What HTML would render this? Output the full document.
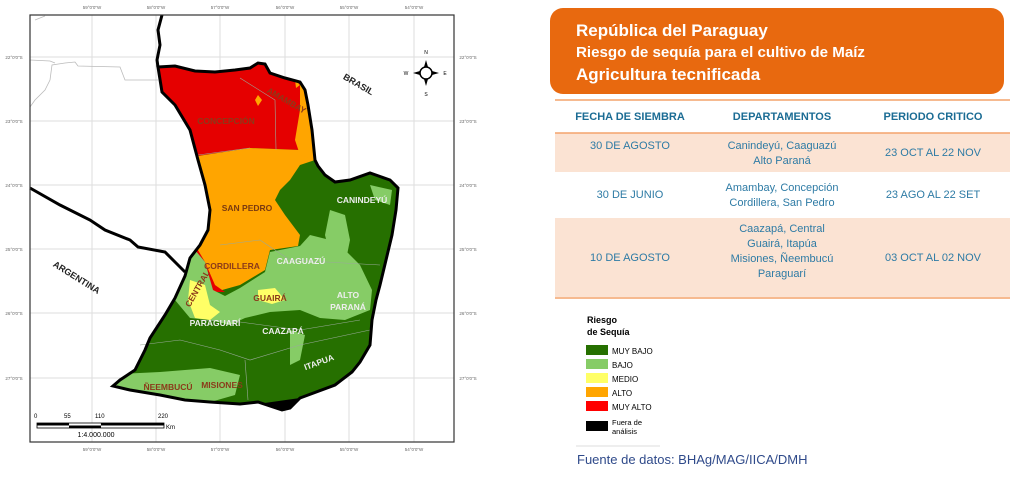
<!DOCTYPE html>
<html><head><meta charset="utf-8"><style>
body{margin:0;width:1024px;height:478px;background:#fff;position:relative;overflow:hidden;font-family:"Liberation Sans",sans-serif}
.c{position:absolute;text-align:center;color:#2E7BA5;font-size:11px;line-height:15px}
.h{position:absolute;color:#1B6C94;font-weight:bold;font-size:11px;text-align:center}
</style></head><body>
<svg width="1024" height="478" style="position:absolute;left:0;top:0" font-family="Liberation Sans, sans-serif">
<defs><clipPath id="py"><path id="pyp" d="M158,67 L175,66 L195,71 L215,72 L235,70 L250,68 L258,63 L265,64 L270,73 L285,78 L300,82 L305,90 L308,105 L312,130 L315,160 L318,166 L325,175 L335,182 L350,180 L370,173 L390,180 L398,188 L396,210 L392,235 L386,260 L380,285 L376,300 L372,320 L370,345 L360,362 L352,372 L335,385 L300,398 L290,408 L282,410 L270,406 L258,402 L240,404 L210,402 L185,400 L160,395 L130,390 L113,386 L120,380 L135,370 L145,350 L150,338 L165,315 L175,298 L185,276 L190,258 L200,245 L208,230 L210,210 L205,185 L198,160 L190,130 L175,105 L162,92 Z"/></clipPath></defs>
<g stroke="#ddd" stroke-width="1">
<line x1="92" y1="15" x2="92" y2="442"/><line x1="156" y1="15" x2="156" y2="442"/><line x1="220" y1="15" x2="220" y2="442"/><line x1="285" y1="15" x2="285" y2="442"/><line x1="349" y1="15" x2="349" y2="442"/><line x1="414" y1="15" x2="414" y2="442"/>
<line x1="30" y1="57" x2="454" y2="57"/><line x1="30" y1="121" x2="454" y2="121"/><line x1="30" y1="185" x2="454" y2="185"/><line x1="30" y1="249" x2="454" y2="249"/><line x1="30" y1="313" x2="454" y2="313"/><line x1="30" y1="378" x2="454" y2="378"/>
</g>
<g font-size="4.5" fill="#666" text-anchor="middle">
<text x="92" y="9">59°0'0"W</text><text x="156" y="9">58°0'0"W</text><text x="220" y="9">57°0'0"W</text><text x="285" y="9">56°0'0"W</text><text x="349" y="9">55°0'0"W</text><text x="414" y="9">54°0'0"W</text>
<text x="92" y="451">59°0'0"W</text><text x="156" y="451">58°0'0"W</text><text x="220" y="451">57°0'0"W</text><text x="285" y="451">56°0'0"W</text><text x="349" y="451">55°0'0"W</text><text x="414" y="451">54°0'0"W</text>
<text x="14" y="59">22°0'0"S</text><text x="14" y="123">23°0'0"S</text><text x="14" y="187">24°0'0"S</text><text x="14" y="251">25°0'0"S</text><text x="14" y="315">26°0'0"S</text><text x="14" y="380">27°0'0"S</text>
<text x="468" y="59">22°0'0"S</text><text x="468" y="123">23°0'0"S</text><text x="468" y="187">24°0'0"S</text><text x="468" y="251">25°0'0"S</text><text x="468" y="315">26°0'0"S</text><text x="468" y="380">27°0'0"S</text>
</g>
<g fill="none" stroke="#bbb" stroke-width="0.8">
<path d="M30,107 L35,100 L45,90 L50,80 L52,65 L65,63 L75,62 L78,66 L120,67 L125,80 L158,80"/>
<path d="M30,60 L50,61 L55,63"/><path d="M35,20 L45,16"/>
</g>
<g clip-path="url(#py)">
<rect x="100" y="50" width="310" height="370" fill="#267000"/>
<path d="M100,50 L320,50 L315,160 L300,150 L250,148 L198,156 L100,160Z" fill="#E50000"/>
<path d="M198,156 L250,148 L300,150 L315,160 L300,165 L290,180 L280,190 L275,200 L285,215 L300,235 L298,246 L270,250 L265,270 L240,285 L215,292 L200,285 L190,265 L195,245 L205,230 Z" fill="#FFA500"/>
<path d="M300,80 L310,90 L315,160 L300,155 L295,140 L300,110Z" fill="#FFA500"/>
<path d="M258,95 L262,100 L258,106 L255,100Z M295,80 L300,85 L296,88Z" fill="#FFA500"/>
<path d="M195,245 L205,262 L215,285 L225,292 L205,292 L195,275Z" fill="#E50000"/>
<path d="M185,255 L195,250 L205,262 L213,290 L225,296 L240,288 L265,272 L270,252 L300,246 L310,235 L330,240 L345,250 L360,265 L372,290 L370,310 L345,320 L320,318 L300,310 L270,312 L245,318 L230,325 L210,320 L190,318 L175,300Z" fill="#86CC66"/>
<path d="M330,210 L345,215 L350,240 L345,265 L330,255 L325,235Z" fill="#86CC66"/>
<path d="M370,185 L392,190 L390,205 L375,200Z" fill="#86CC66"/>
<path d="M100,375 L160,372 L210,368 L240,375 L235,395 L200,405 L100,410Z" fill="#86CC66"/>
<path d="M290,330 L305,335 L300,360 L290,365Z" fill="#86CC66"/>
<path d="M190,280 L205,285 L210,305 L220,312 L210,320 L195,318 L188,300Z" fill="#FFFF66"/>
<path d="M258,290 L275,288 L285,300 L272,304 L258,300Z" fill="#FFFF66"/>
<path d="M250,405 L300,398 L290,412 L265,412Z" fill="#000"/>
</g>
<g fill="none" stroke="#9a9" stroke-width="0.6"><path d="M240,78 L275,100 L276,150"/><path d="M198,155 L250,148"/><path d="M220,245 L260,240 L290,260 L380,265"/><path d="M200,320 L240,322 L300,330 L360,320"/><path d="M140,345 L180,340 L220,350 L250,360 L300,345 L370,330"/><path d="M245,360 L248,400"/></g>
<use href="#pyp" fill="none" stroke="#000" stroke-width="3"/>
<path d="M158,67 L157,60 L160,45 L158,30 L162,15" fill="none" stroke="#000" stroke-width="3"/>
<path d="M30,188 L60,205 L90,220 L105,230 L130,240 L138,247 L165,252 L175,262 L185,272" fill="none" stroke="#000" stroke-width="3"/>
<g font-size="8.5" font-weight="bold" text-anchor="middle">
<text x="226" y="124" fill="#8B3A1A">CONCEPCIÓN</text>
<text x="285" y="103" fill="#8B3A1A" transform="rotate(30 285 103)">AMAMBAY</text>
<text x="247" y="211" fill="#7A3A10">SAN PEDRO</text>
<text x="232" y="269" fill="#8B3A1A">CORDILLERA</text>
<text x="301" y="264" fill="#eee">CAAGUAZÚ</text>
<text x="362" y="203" fill="#eee">CANINDEYÚ</text>
<text x="270" y="301" fill="#8B3A1A">GUAIRÁ</text>
<text x="348" y="298" fill="#eee">ALTO</text><text x="348" y="310" fill="#eee">PARANÁ</text>
<text x="215" y="326" fill="#eee">PARAGUARÍ</text>
<text x="283" y="334" fill="#eee">CAAZAPÁ</text>
<text x="320" y="365" fill="#eee" transform="rotate(-20 320 365)">ITAPUA</text>
<text x="168" y="390" fill="#8B3A1A">ÑEEMBUCÚ</text>
<text x="222" y="388" fill="#8B3A1A">MISIONES</text>
<text x="200" y="290" fill="#8B3A1A" transform="rotate(-60 200 290)">CENTRAL</text>
<text x="357" y="87" fill="#222" font-size="9" transform="rotate(30 357 87)">BRASIL</text>
<text x="75" y="280" fill="#222" font-size="9" transform="rotate(32 75 280)">ARGENTINA</text>
</g>
<g><circle cx="426" cy="73" r="6" fill="#fff" stroke="#000" stroke-width="1.5"/><path d="M426,60 L428,67 L424,67Z M426,86 L428,79 L424,79Z M413,73 L420,71 L420,75Z M439,73 L432,71 L432,75Z" fill="#000"/>
<g font-size="5" text-anchor="middle"><text x="426" y="54">N</text><text x="426" y="96">S</text><text x="406" y="75">W</text><text x="445" y="75">E</text></g></g>
<g font-size="6"><text x="34" y="418">0</text><text x="64" y="418">55</text><text x="95" y="418">110</text><text x="158" y="418">220</text><text x="166" y="429">Km</text><text x="96" y="437" font-size="7" text-anchor="middle">1:4.000.000</text></g>
<rect x="37" y="423" width="127" height="5" fill="#fff" stroke="#000" stroke-width="0.8"/>
<rect x="37" y="423" width="32" height="2.5" fill="#000"/><rect x="69" y="425.5" width="32" height="2.5" fill="#000"/><rect x="101" y="423" width="63" height="2.5" fill="#000"/>
<rect x="30" y="15" width="424" height="427" fill="none" stroke="#333" stroke-width="1.2"/>
<rect x="550" y="8" width="454" height="86" rx="13" fill="#E8690F"/>
<g fill="#fff" font-weight="bold"><text x="576" y="36" font-size="17">República del Paraguay</text><text x="576" y="57" font-size="14.5" textLength="289" lengthAdjust="spacingAndGlyphs">Riesgo de sequía para el cultivo de Maíz</text><text x="576" y="80" font-size="17">Agricultura tecnificada</text></g>
<rect x="555" y="133" width="455" height="39" fill="#FBE3D3"/><rect x="555" y="218" width="455" height="79" fill="#FBE3D3"/>
<g stroke="#F4A36C" stroke-width="1.5"><line x1="555" y1="100" x2="1010" y2="100"/><line x1="555" y1="133" x2="1010" y2="133"/><line x1="555" y1="298" x2="1010" y2="298"/></g>
<g font-size="8"><text x="587" y="323" font-weight="bold" font-size="9">Riesgo</text><text x="587" y="335" font-weight="bold" font-size="9">de Sequía</text>
<rect x="586" y="345" width="22" height="10" fill="#267000"/><text x="612" y="354">MUY BAJO</text>
<rect x="586" y="359" width="22" height="10" fill="#86CC66"/><text x="612" y="368">BAJO</text>
<rect x="586" y="373" width="22" height="10" fill="#FFFF66"/><text x="612" y="382">MEDIO</text>
<rect x="586" y="387" width="22" height="10" fill="#FFA500"/><text x="612" y="396">ALTO</text>
<rect x="586" y="401" width="22" height="10" fill="#F00"/><text x="612" y="410">MUY ALTO</text>
<rect x="586" y="421" width="22" height="10" fill="#000"/><text x="612" y="425" font-size="7.5">Fuera de</text><text x="612" y="434" font-size="7.5">análisis</text></g>
<line x1="576" y1="446" x2="660" y2="446" stroke="#ddd"/>
<text x="577" y="464" font-size="13" fill="#2F4A8A">Fuente de datos: BHAg/MAG/IICA/DMH</text>
</svg>
<div class="h" style="left:555px;top:111px;width:150px">FECHA DE SIEMBRA</div>
<div class="h" style="left:707px;top:111px;width:150px">DEPARTAMENTOS</div>
<div class="h" style="left:858px;top:111px;width:150px">PERIODO CRITICO</div>
<div class="c" style="left:555px;top:139px;width:150px">30 DE AGOSTO</div>
<div class="c" style="left:707px;top:139px;width:150px">Canindeyú, Caaguazú<br>Alto Paraná</div>
<div class="c" style="left:858px;top:146px;width:150px">23 OCT AL 22 NOV</div>
<div class="c" style="left:555px;top:188px;width:150px">30 DE JUNIO</div>
<div class="c" style="left:707px;top:181px;width:150px">Amambay, Concepción<br>Cordillera, San Pedro</div>
<div class="c" style="left:858px;top:188px;width:150px">23 AGO AL 22 SET</div>
<div class="c" style="left:555px;top:251px;width:150px">10 DE AGOSTO</div>
<div class="c" style="left:707px;top:222px;width:150px">Caazapá, Central<br>Guairá, Itapúa<br>Misiones, Ñeembucú<br>Paraguarí</div>
<div class="c" style="left:858px;top:251px;width:150px">03 OCT AL 02 NOV</div>
</body></html>
